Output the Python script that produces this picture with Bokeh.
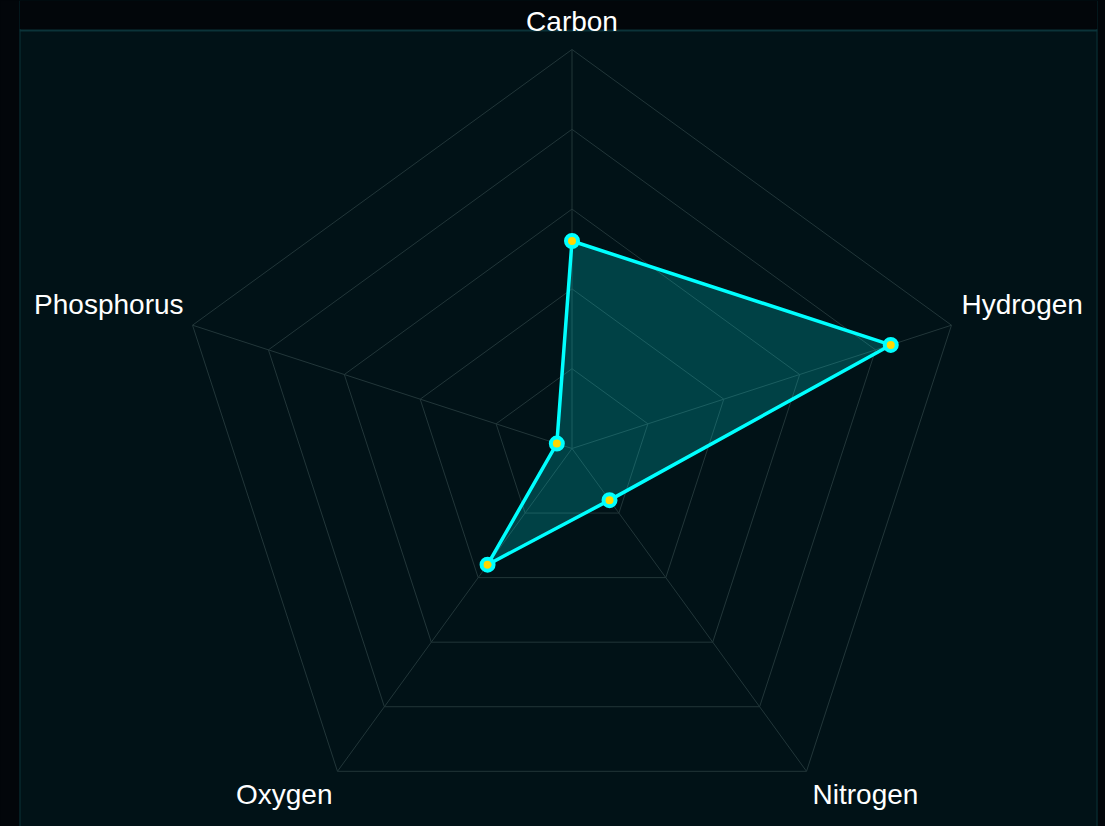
import numpy as np
from bokeh.plotting import figure
from bokeh.models import Range1d, Label, Span, BoxAnnotation
from bokeh.embed import file_html
from bokeh.resources import INLINE

# ---- data ----
categories = ["Carbon", "Hydrogen", "Nitrogen", "Oxygen", "Phosphorus"]
values = [52, 84, 16, 36, 4]
max_value = 100
ring_levels = [20, 40, 60, 80, 100]

# ---- layout constants (page pixels) ----
FIG_W, FIG_H = 1098, 826
MB_LEFT, MB_TOP, MB_RIGHT, MB_BOTTOM = 19, 0, 1, 0
PANEL_TOP = 30                      # visible top edge of the inner panel
CX, CY, RPX = 571.5, 448.0, 399.0   # radar centre / radius in page pixels
k = RPX / max_value

fx0 = MB_LEFT
fx1 = FIG_W - MB_RIGHT
fy0 = MB_TOP
fy1 = FIG_H - MB_BOTTOM

BG_OUT = "#02060a"
BG_IN = "#011217"
BORDER = "#0b3339"
GRID = "#223639"
CYAN = "#00ffff"
GOLD = "#ffd700"

p = figure(width=FIG_W, height=FIG_H, output_backend="svg", toolbar_location=None,
           x_axis_location=None, y_axis_location=None,
           min_border_left=MB_LEFT, min_border_top=MB_TOP,
           min_border_right=MB_RIGHT, min_border_bottom=MB_BOTTOM,
           x_range=Range1d((fx0 - CX) / k, (fx1 - CX) / k),
           y_range=Range1d((CY - fy1) / k, (CY - fy0) / k))
p.grid.visible = False
p.background_fill_color = BG_IN
p.border_fill_color = BG_OUT
p.outline_line_color = None

panel_top = (CY - PANEL_TOP) / k
# dark strip above the inner panel
p.add_layout(BoxAnnotation(bottom=panel_top, fill_color=BG_OUT, fill_alpha=1,
                           line_color=None, level="underlay"))

n = len(categories)
ang = np.pi / 2 - 2 * np.pi * np.arange(n) / n
ux, uy = np.cos(ang), np.sin(ang)

# grid rings
rx = [list(np.append(ux * r, ux[0] * r)) for r in ring_levels]
ry = [list(np.append(uy * r, uy[0] * r)) for r in ring_levels]
p.multi_line(rx, ry, line_color=GRID, line_width=1)
# spokes
p.segment(x0=[0] * n, y0=[0] * n, x1=list(ux * max_value), y1=list(uy * max_value),
          line_color=GRID, line_width=1)

# data polygon
vx = ux * np.array(values)
vy = uy * np.array(values)
p.patch(list(vx), list(vy), fill_color=CYAN, fill_alpha=0.2, line_color=None)
p.line(list(np.append(vx, vx[0])), list(np.append(vy, vy[0])),
       line_color=CYAN, line_width=3.5, line_join="round")
p.scatter(list(vx), list(vy), size=12, fill_color=GOLD, line_color=CYAN, line_width=4)

# panel border (left, top, right)
p.add_layout(Span(location=p.x_range.start, dimension="height", line_color=BORDER, line_width=2))
p.add_layout(Span(location=p.x_range.end, dimension="height", line_color=BORDER, line_width=2))
p.add_layout(Span(location=panel_top, dimension="width", line_color=BORDER, line_width=2))
# hide side borders above the panel
p.add_layout(BoxAnnotation(bottom=panel_top + 1.5 / k, right=p.x_range.start + 1.5 / k,
                           fill_color=BG_OUT, fill_alpha=1, line_color=None))
p.add_layout(BoxAnnotation(bottom=panel_top + 1.5 / k, left=p.x_range.end - 1.5 / k,
                           fill_color=BG_OUT, fill_alpha=1, line_color=None))

# category labels (style: alignment + pixel offsets)
label_style = {
    "Carbon": ("center", 0, 28),
    "Hydrogen": ("left", 10, 21),
    "Nitrogen": ("left", 6, -23),
    "Oxygen": ("right", -5, -23),
    "Phosphorus": ("right", -9, 21),
}
for i, c in enumerate(categories):
    al, xo, yo = label_style[c]
    p.add_layout(Label(x=ux[i] * max_value, y=uy[i] * max_value, text=c,
                       x_offset=xo, y_offset=yo, text_align=al,
                       text_baseline="alphabetic", text_color="#ffffff",
                       text_font="Liberation Sans", text_font_size="28px"))

html = file_html(p, INLINE)
html = html.replace("</head>", "<style>html,body{background:%s;}</style></head>" % BG_OUT, 1)
open("out.html", "w").write(html)
